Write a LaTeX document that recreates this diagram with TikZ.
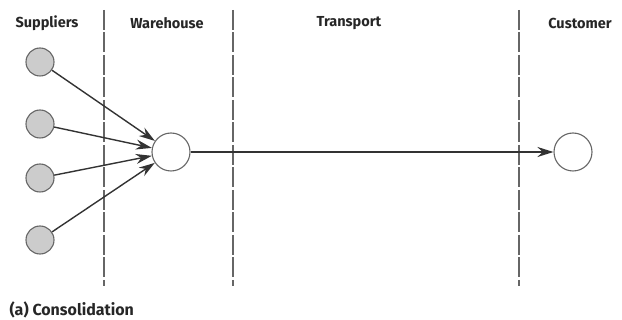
\documentclass[tikz,border=0pt]{standalone}
\usepackage{fontspec}
\setmainfont{Fira Sans}
\usetikzlibrary{arrows.meta}

\begin{document}
\begin{tikzpicture}
  [x=1pt,y=-1pt,every node/.style={circle,draw=black!60,line width=1.1pt,inner sep=0pt},
   supplier/.style={minimum size=28pt,fill=black!20},
   hub/.style={minimum size=38pt,fill=white},
   label/.style={draw=none,rectangle,font=\bfseries\fontsize{14.5}{17}\selectfont,text=black!85},
   divider/.style={black!60,line width=1.3pt,dash pattern=on 20pt off 2.5pt},
   flow/.style={black!80,line width=1.4pt,-{Stealth[length=16pt,width=10pt]}}]
  \useasboundingbox (0,0) rectangle (622,320);

  \draw[divider] (104,10) -- (104,286);
  \draw[divider] (233,10) -- (233,286);
  \draw[divider] (519,10) -- (519,286);

  \node[label] (l1) at (47,23)  {Suppliers};
  \node[label] (l2) at (167,23) {Warehouse};
  \node[label] (l3) at (349,23) {Transport};
  \node[label] (l4) at (580,23) {Customer};
  \node[label,anchor=west,font=\bfseries\fontsize{16}{19}\selectfont] (cap) at (9,310) {(a) Consolidation};

  \node[supplier] (s1) at (40,62)  {};
  \node[supplier] (s2) at (40,124) {};
  \node[supplier] (s3) at (40,178) {};
  \node[supplier] (s4) at (40,240) {};
  \node[hub] (w) at (171,152) {};
  \node[hub] (c) at (573,152) {};

  \foreach \from/\to in {s1/w,s2/w,s3/w,s4/w,w/c}
    \draw[flow] (\from) -- (\to);

\end{tikzpicture}
\end{document}
